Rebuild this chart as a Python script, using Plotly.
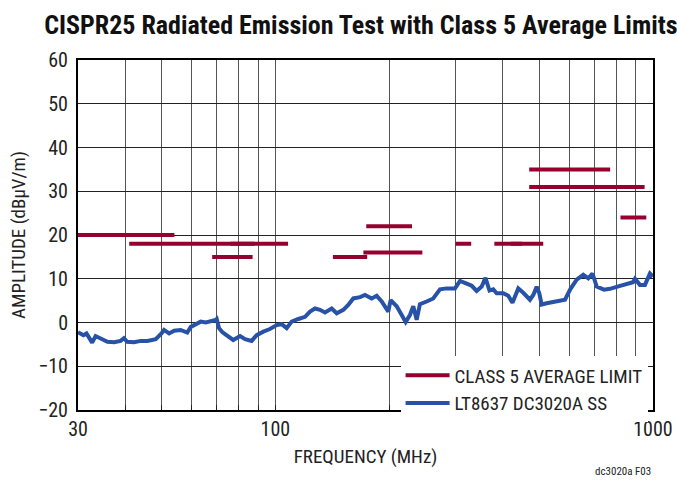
import plotly.graph_objects as go

# ---- data ----
# CISPR25 Class 5 average limit bands (MHz) and levels (dBuV/m)
limit_start = [30, 41, 76, 68, 142, 171, 174, 300, 380, 420, 470, 470, 820]
limit_stop = [54, 88, 108, 87, 175, 245, 230, 330, 512, 450, 770, 950, 960]
limit_level = [20, 18, 18, 15, 15, 16, 22, 18, 18, 18, 35, 31, 24]

# measured emission LT8637 DC3020A SS
freq_mhz = [30.0, 30.5, 31.0, 31.6, 32.1, 32.7, 33.4, 34.5, 35.9, 37.4, 38.9, 39.7,
            40.5, 42.2, 44.0, 45.8, 48.2, 49.9, 50.7, 52.3, 53.9, 56.1, 58.4, 59.7,
            61.5, 63.4, 65.4, 67.4, 69.5, 69.9, 70.9, 72.3, 74.3, 77.3, 80.6, 83.1,
            86.5, 89.2, 92.9, 96.7, 100.8, 103.9, 107.1, 110.4, 115.0, 119.8, 123.5,
            127.3, 131.2, 135.3, 140.9, 145.3, 151.3, 155.9, 160.8, 167.5, 172.7,
            177.3, 179.9, 185.4, 191.2, 199.0, 201.9, 209.5, 216.0, 221.3, 227.1,
            231.8, 236.6, 241.4, 251.5, 261.8, 272.8, 284.1, 298.9, 308.2, 321.0,
            331.0, 341.2, 351.8, 360.0, 368.9, 377.5, 385.4, 401.3, 413.7, 424.4,
            439.7, 453.3, 472.2, 481.9, 491.9, 499.8, 507.1, 522.9, 543.3, 584.7,
            604.7, 627.9, 653.7, 673.9, 691.4, 709.4, 741.5, 769.1, 805.2, 842.8,
            884.9, 895.8, 923.4, 952.1, 981.5, 1000.0]
amplitude = [-2.2, -2.5, -2.9, -2.5, -3.3, -4.6, -3.1, -3.6, -4.4, -4.5, -4.2, -3.6,
             -4.4, -4.5, -4.2, -4.2, -3.8, -2.5, -1.7, -2.5, -1.9, -1.7, -2.3, -1.0,
             -0.3, 0.2, 0.0, 0.2, 0.6, 0.8, -1.3, -2.2, -2.9, -4.0, -3.1, -3.8,
             -4.2, -2.9, -2.1, -1.5, -0.6, -0.4, -1.3, 0.2, 0.8, 1.3, 2.5,
             3.2, 2.9, 2.3, 3.2, 2.1, 2.9, 4.0, 5.5, 5.8, 6.3,
             5.9, 5.5, 6.1, 4.8, 2.5, 5.1, 3.7, 1.7, 0.1, 1.7,
             3.7, 0.6, 4.2, 4.8, 5.5, 7.6, 7.8, 7.8, 9.5, 8.9,
             8.4, 7.2, 8.2, 10.2, 7.3, 7.6, 6.7, 6.7, 6.1, 4.5,
             7.8, 6.8, 5.2, 6.3, 8.2, 6.7, 4.1, 4.4, 4.6, 5.2,
             7.7, 9.8, 10.9, 10.1, 11.2, 8.2, 7.5, 7.7, 8.2, 8.6,
             9.2, 10.0, 8.6, 8.6, 11.2, 10.5]

x_tick_vals = [30, 100, 1000]
x_tick_text = ["30", "100", "1000"]
x_minor_vals = [40, 50, 60, 70, 80, 90, 200, 300, 400, 500, 600, 700, 800, 900]

# ---- build limit segments ----
lim_x, lim_y = [], []
for a, b, lv in zip(limit_start, limit_stop, limit_level):
    lim_x += [a, b, None]
    lim_y += [lv, lv, None]

FONT = "Roboto Condensed, Liberation Sans Narrow, Arial Narrow, Roboto, sans-serif"
RED = "#950030"
BLUE = "#2752a8"

fig = go.Figure()
fig.add_trace(go.Scatter(x=lim_x, y=lim_y, mode="lines", name="CLASS 5 AVERAGE LIMIT",
                         line=dict(color=RED, width=4), connectgaps=False))
fig.add_trace(go.Scatter(x=freq_mhz, y=amplitude, mode="lines", name="LT8637 DC3020A SS",
                         line=dict(color=BLUE, width=4)))

fig.update_layout(
    width=677, height=480,
    margin=dict(l=78, r=24, t=60, b=70, autoexpand=False),
    paper_bgcolor="white", plot_bgcolor="white",
    font=dict(family=FONT, size=19, color="#222"),
    title=dict(text="<b>CISPR25 Radiated Emission Test with Class 5 Average Limits</b>",
               x=0.533, xanchor="center", y=0.948, yanchor="middle",
               font=dict(family=FONT, size=26, color="#111")),
    legend=dict(x=0.561, y=0.153, xanchor="left", yanchor="top",
                bgcolor="white", borderwidth=0, itemwidth=44,
                font=dict(family=FONT, size=19, color="#222")),
    showlegend=True,
)

fig.update_xaxes(
    type="log", range=[1.4771212547, 3], automargin=False,
    tickvals=x_tick_vals, ticktext=x_tick_text,
    ticks="inside", ticklen=5, tickcolor="#222",
    showgrid=True, gridcolor="#555", gridwidth=1,
    minor=dict(tickvals=x_minor_vals, ticks="inside", ticklen=5, tickcolor="#222",
               showgrid=True, gridcolor="#555", gridwidth=1),
    showline=True, linecolor="black", linewidth=2, mirror=True,
    tickfont=dict(family=FONT, size=20, color="#222"),
    title=dict(text="FREQUENCY (MHz)", standoff=10,
               font=dict(family=FONT, size=19, color="#222")),
    zeroline=False,
)
fig.update_yaxes(
    range=[-20, 60], dtick=10, tick0=0, automargin=False,
    ticks="", showgrid=True, gridcolor="#222", gridwidth=1,
    showline=True, linecolor="black", linewidth=2, mirror=True,
    tickfont=dict(family=FONT, size=20, color="#222"),
    ticklabelstandoff=4,
    title=dict(text="AMPLITUDE (dBµV/m)", standoff=8,
               font=dict(family=FONT, size=19, color="#222")),
    zeroline=False,
)

fig.add_annotation(text="dc3020a F03", xref="paper", yref="paper",
                   x=1.0, y=-0.175, xanchor="right", yanchor="middle",
                   showarrow=False, font=dict(family=FONT, size=11, color="#222"))

fig.write_html("out.html", config={"displayModeBar": False},
               post_script="document.body.style.margin='0';document.body.style.padding='0';")
